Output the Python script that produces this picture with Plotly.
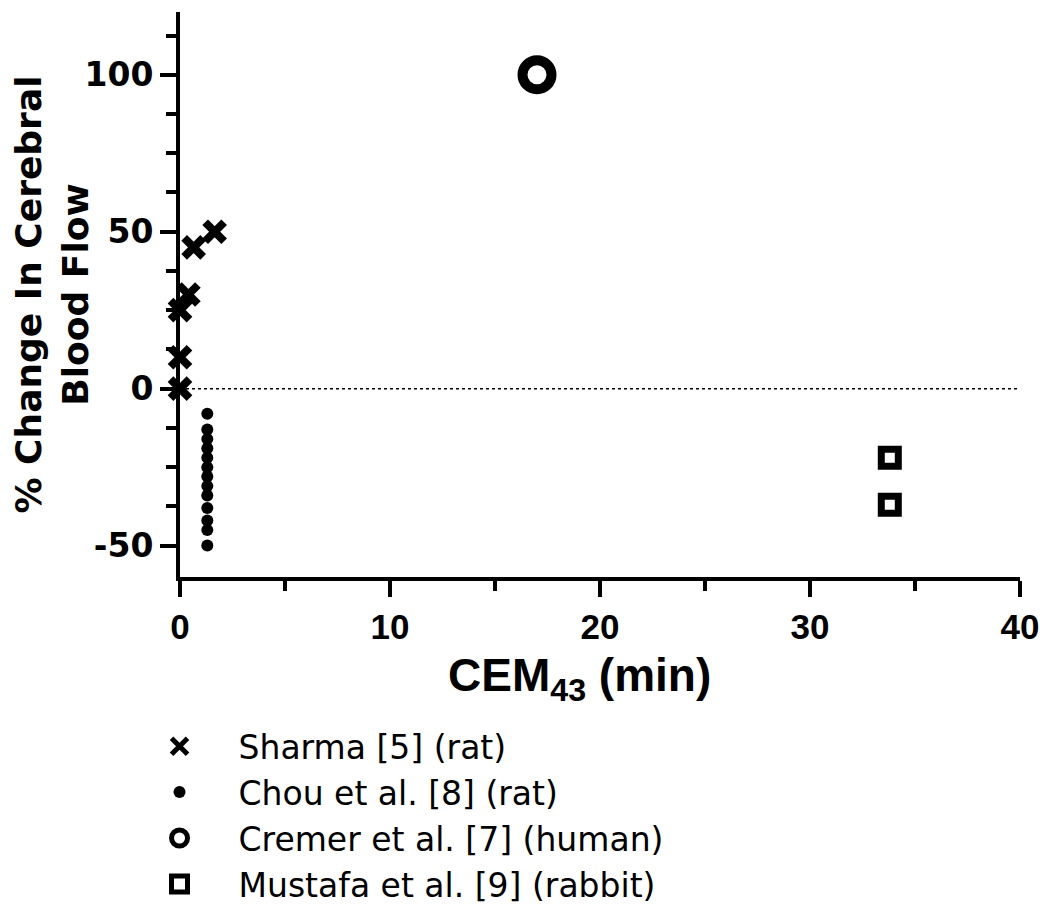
import plotly.graph_objects as go

# values
sharma_x = [0, 0, 0, 0.4, 0.65, 1.65]
sharma_y = [0, 10, 25, 30, 45, 50]

chou_x = [1.3] * 13
chou_y = [-8, -13, -16, -19, -22, -25, -28, -31, -34, -38, -42, -45, -50]

cremer_x = [17]
cremer_y = [100]

mustafa_x = [33.8, 33.8]
mustafa_y = [-22, -37]

x_range = [0, 40]
y_range = [-60, 120]
y_ticks = [-50, 0, 50, 100]
y_ticktext = ['-50', '0', '50', '100']

ARIAL = 'Liberation Sans, Arial, sans-serif'
WIDE = 'DejaVu Sans, Verdana, sans-serif'


fig = go.Figure()
fig.add_trace(
    go.Scatter(
        x=sharma_x, y=sharma_y, mode='markers', name='Sharma [5] (rat)',
        marker=dict(symbol='x-thin', size=19, color='black',
                    line=dict(color='black', width=8)),
        cliponaxis=False
    )
)
fig.add_trace(
    go.Scatter(
        x=chou_x, y=chou_y, mode='markers', name='Chou et al. [8] (rat)',
        marker=dict(symbol='circle', size=12, color='black', line=dict(width=0)),
        cliponaxis=False
    )
)
fig.add_trace(
    go.Scatter(
        x=cremer_x, y=cremer_y, mode='markers', name='Cremer et al. [7] (human)',
        marker=dict(symbol='circle-open', size=29, color='black',
                    line=dict(color='black', width=10)),
        cliponaxis=False
    )
)
fig.add_trace(
    go.Scatter(
        x=mustafa_x, y=mustafa_y, mode='markers', name='Mustafa et al. [9] (rabbit)',
        marker=dict(symbol='square-open', size=17, color='black',
                    line=dict(color='black', width=7)),
        cliponaxis=False
    )
)

# dotted reference line at 0
fig.add_hline(y=0, line=dict(color='black', width=1.5, dash='dot'))

# x axis title, set slightly left of the plot centre as in the original
fig.add_annotation(
    text='<b>CEM<sub>43</sub> (min)</b>', xref='paper', yref='paper',
    x=0.476, y=-0.18, xanchor='center', yanchor='middle', showarrow=False,
    font=dict(family=ARIAL, size=46, color='black')
)

axis_common = dict(
    showline=True, linewidth=4, linecolor='black',
    ticks='outside', ticklen=16, tickwidth=4, tickcolor='black',
    showgrid=False, zeroline=False, automargin=False,
    ticklabeloverflow='allow',
)

# page body has an 8px margin on every side: keep the figure inside the
# window so that no scrollbars appear
fig.update_layout(
    width=1034, height=900,
    paper_bgcolor='white', plot_bgcolor='white',
    font=dict(family=ARIAL, color='black'),
    margin=dict(l=172, r=22, t=4, b=331, autoexpand=False),
    xaxis=dict(
        range=x_range, dtick=10, tick0=0,
        minor=dict(dtick=5, ticks='outside', ticklen=10, tickwidth=4, tickcolor='black'),
        tickfont=dict(family=ARIAL, size=35, color='black', weight='bold'),
        **axis_common
    ),
    yaxis=dict(
        range=y_range, tickvals=y_ticks, ticktext=y_ticktext,
        minor=dict(dtick=12.5, tick0=0, ticks='outside', ticklen=10, tickwidth=4,
                   tickcolor='black'),
        tickfont=dict(family=WIDE, size=33, color='black', weight='bold'),
        title=dict(text='% Change In Cerebral<br>Blood Flow', standoff=14,
                   font=dict(family=WIDE, size=36, color='black', weight='bold')),
        **axis_common
    ),
    showlegend=True,
    legend=dict(
        x=-0.0708, xanchor='left', y=-0.250, yanchor='top',
        font=dict(family=WIDE, size=33, color='black'),
        itemwidth=108, tracegroupgap=0, bgcolor='rgba(0,0,0,0)'
    ),
)

fig.write_html('out.html')
